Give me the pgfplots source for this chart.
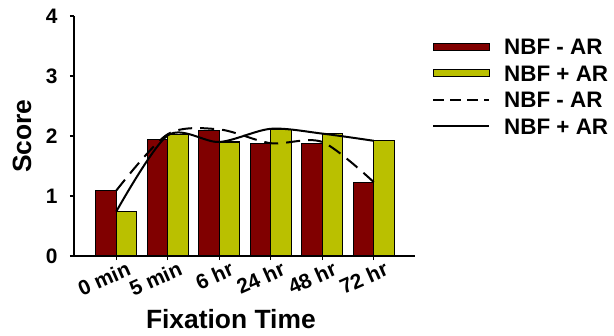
\documentclass[border=0pt]{standalone}
\usepackage{fontspec}
\setmainfont{Liberation Sans}
\usepackage{pgfplots}
\pgfplotsset{compat=1.18}
\definecolor{darkred}{RGB}{128,0,0}
\definecolor{oliveg}{RGB}{186,192,0}
\begin{document}
\begin{tikzpicture}[x=1bp,y=1bp]
\useasboundingbox (-74,-79) rectangle (540,256);
\begin{axis}[
  scale only axis, width=341bp, height=240bp,
  xmin=-0.82, xmax=5.8, ymin=0, ymax=4,
  axis x line*=bottom, axis y line*=left,
  axis line style={black, line width=1.5bp},
  xtick={0,1,2,3,4,5},
  xticklabels={0 min,5 min,6 hr,24 hr,48 hr,72 hr},
  ytick={0,1,2,3,4},
  tick align=outside, major tick length=4bp,
  tick style={black, line width=1.2bp},
  /pgf/number format/assume math mode=true,
  ticklabel style={font=\bfseries\fontsize{21}{21}\selectfont},
  x tick label style={rotate=24, anchor=north east, xshift=12bp, yshift=-1bp},
  y tick label style={xshift=-9bp},
  xlabel={Fixation Time}, ylabel={Score},
  label style={font=\bfseries\fontsize{26.5}{26.5}\selectfont},
  xlabel style={at={(axis description cs:0.46,0)}, anchor=base, yshift=-72bp},
  ylabel style={at={(axis description cs:-0.1525,0.5)}, anchor=center, rotate=0},
  legend style={at={(1,1)}, anchor=north west, xshift=17bp, yshift=-22.5bp,
    draw=none, fill=none, inner sep=0pt, row sep=10.5bp,
    font=\bfseries\fontsize{22.5}{22.5}\selectfont,
    nodes={inner ysep=0pt, inner xsep=0pt, text height=16bp, text depth=0bp},
    /tikz/every odd column/.append style={column sep=14bp}},
  legend cell align=left,
]
\addplot[ybar, bar width=0.4, bar shift=-0.2, fill=darkred, draw=black, line width=1.2bp,
  legend image code/.code={\draw[fill=darkred, draw=black, line width=1.2bp] (0bp,-3.5bp) rectangle (56bp,3.5bp);}]
  coordinates {(0,1.09) (1,1.94) (2,2.09) (3,1.87) (4,1.87) (5,1.23)};
\addlegendentry{NBF - AR}
\addplot[ybar, bar width=0.4, bar shift=0.2, fill=oliveg, draw=black, line width=1.2bp,
  legend image code/.code={\draw[fill=oliveg, draw=black, line width=1.2bp] (0bp,-3.5bp) rectangle (56bp,3.5bp);}]
  coordinates {(0,0.74) (1,2.02) (2,1.90) (3,2.11) (4,2.04) (5,1.92)};
\addlegendentry{NBF + AR}
\addplot[black, line width=2bp, dash pattern=on 14bp off 8bp, smooth, tension=0.5,
  legend image code/.code={\draw[black, line width=2bp, dash pattern=on 11bp off 6bp] (0bp,0bp) -- (56bp,0bp);}]
  coordinates {(0,1.09) (1,2.03) (2,2.11) (3,1.88) (4,1.90) (5,1.23)};
\addlegendentry{NBF - AR}
\addplot[black, line width=2bp, smooth, tension=0.5,
  legend image code/.code={\draw[black, line width=2bp] (0bp,0bp) -- (56bp,0bp);}]
  coordinates {(0,0.74) (1,2.01) (2,1.90) (3,2.12) (4,2.04) (5,1.92)};
\addlegendentry{NBF + AR}
\end{axis}
\end{tikzpicture}
\end{document}
